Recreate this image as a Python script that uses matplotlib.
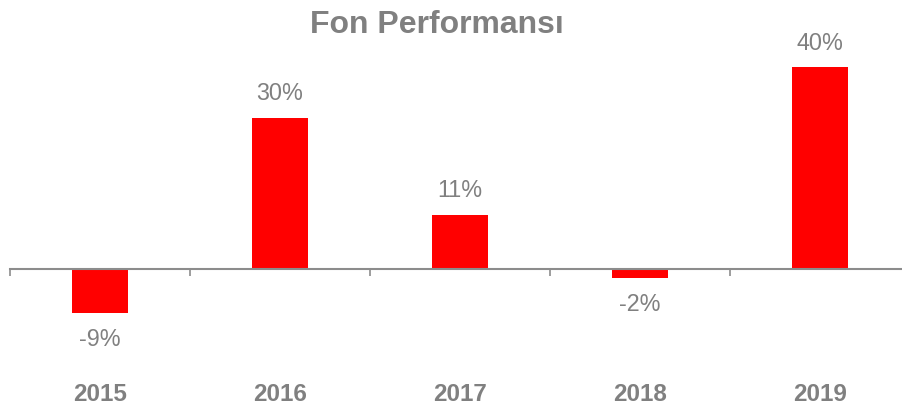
import numpy as np
import matplotlib.pyplot as plt

# data
years = ['2015', '2016', '2017', '2018', '2019']
returns = [-8.7, 30.0, 10.8, -1.8, 40.0]
labels = ['-9%', '30%', '11%', '-2%', '40%']

gray = '#808080'
plt.rcParams['font.family'] = ['Liberation Sans', 'DejaVu Sans']

fig = plt.figure(figsize=(9.03, 4.12), dpi=100)
W, H = 903, 412
# axes placed in pixel terms: x 10..910, y 40..350
ax = fig.add_axes([10 / W, 1 - 350 / H, 900 / W, 310 / H])

x = np.arange(len(years))
ax.bar(x, returns, width=0.31, color='#ff0000')
ax.set_xlim(-0.5, 4.5)
ax.set_ylim(-16, 45.35)

for s in ['top', 'right', 'left']:
    ax.spines[s].set_visible(False)
ax.spines['bottom'].set_position(('data', 0))
ax.spines['bottom'].set_color('#8c8c8c')
ax.spines['bottom'].set_linewidth(1.5)
ax.set_yticks([])
ax.set_xticks(np.arange(-0.5, 5, 1))
ax.set_xticklabels([])
ax.tick_params(axis='x', direction='out', length=5, width=1.2, color='#8c8c8c')

for xi, v, lab in zip(x, returns, labels):
    off = 17 if v >= 0 else -19
    ax.annotate(lab, (xi, v), xytext=(0, off), textcoords='offset points',
                ha='center', va='center', fontsize=16.8, color=gray)

for xi, yr in zip(x, years):
    ax.text(xi, -0.145, yr, transform=ax.get_xaxis_transform(),
            ha='center', va='center', fontsize=17.5, fontweight='bold', color=gray)

fig.text((310 + 563) / 2 / W, 1 - 25 / H, 'Fon Performansı', ha='center', va='center',
         fontsize=23, fontweight='bold', color=gray)

fig.savefig('out.png', dpi=100)
